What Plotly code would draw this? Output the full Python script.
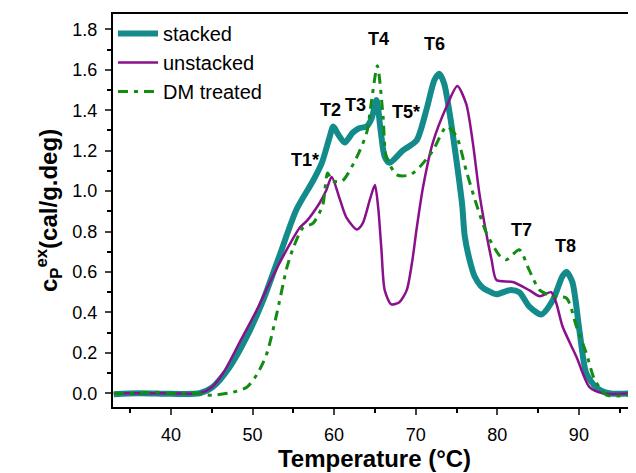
import plotly.graph_objects as go

# ---- data ----
stacked_T = [33, 36, 40, 43.5, 45.1, 47.2, 49.3, 51.3, 53.3, 55.4, 57.4, 58.5, 59.4, 59.9, 60.5,
             61.3, 62.3, 63.0, 64.0, 64.6, 65.2, 65.7, 66.2, 66.8, 68.4, 70.1, 71.3, 72.3, 72.9,
             73.5, 74.1, 75.0, 75.7, 76.0, 76.6, 77.2, 78.0, 78.7, 79.9, 81.5, 82.7, 83.9, 85.4,
             86.8, 88.0, 88.5, 89.2, 90.1, 90.9, 92.1, 93.7, 97]
stacked_y = [-0.005, 0.0, -0.003, 0.0, 0.03, 0.13, 0.28, 0.46, 0.68, 0.91, 1.05, 1.14, 1.26, 1.32, 1.28,
             1.24, 1.29, 1.31, 1.32, 1.36, 1.45, 1.30, 1.17, 1.14, 1.20, 1.25, 1.40, 1.55, 1.58,
             1.53, 1.40, 1.15, 0.93, 0.78, 0.66, 0.58, 0.53, 0.51, 0.49, 0.51, 0.50, 0.43, 0.39,
             0.46, 0.58, 0.60, 0.55, 0.30, 0.10, 0.03, 0.0, 0.0]

unstacked_T = [33, 36, 40, 43.5, 45, 46.4, 48.4, 50.5, 52.5, 54.6, 55.8, 56.6, 58.2, 59.0, 59.7,
               60.7, 61.5, 62.8, 63.5, 64.4, 65.0, 65.4, 65.8, 66.2, 67.0, 68.0, 68.9, 69.6, 70.1,
               70.9, 72.1, 73.8, 75.1, 76.2, 77.0, 77.8, 78.7, 79.3, 79.9, 81.9, 83.9, 85.2, 86.6,
               87.2, 88.0, 89.7, 91.3, 92.9, 97]
unstacked_y = [0.0, 0.0, 0.0, 0.0, 0.03, 0.10, 0.25, 0.41, 0.58, 0.74, 0.82, 0.85, 0.94, 1.0, 1.07,
               0.96, 0.87, 0.81, 0.84, 0.96, 1.03, 0.92, 0.71, 0.51, 0.44, 0.45, 0.51, 0.66, 0.81,
               1.02, 1.24, 1.42, 1.52, 1.43, 1.24, 0.99, 0.78, 0.66, 0.56, 0.55, 0.51, 0.48, 0.50,
               0.45, 0.33, 0.18, 0.03, 0.0, 0.0]

dm_T = [33, 36, 38, 40, 43, 45.1, 47.6, 49.3, 50.5, 51.7, 52.9, 54.2, 55.0, 56.2, 57.4, 58.6,
        59.2, 59.8, 61.0, 62.8, 64.0, 64.6, 65.3, 66.0, 66.4, 67.7, 69.3, 70.5, 72.1, 73.8, 75.0,
        76.2, 77.4, 78.7, 80.3, 81.1, 82.7, 83.9, 85.2, 86.8, 88.5, 89.7, 90.9, 91.9, 93.4, 95.8, 97]
dm_y = [0.0, 0.0, 0.005, 0.0, 0.0, -0.01, 0.005, 0.03, 0.09, 0.19, 0.38, 0.62, 0.72, 0.82, 0.84, 0.93,
        1.09, 1.05, 1.05, 1.17, 1.29, 1.45, 1.62, 1.37, 1.17, 1.08, 1.08, 1.12, 1.20, 1.32, 1.27,
        1.10, 0.94, 0.79, 0.68, 0.66, 0.71, 0.61, 0.51, 0.48, 0.47, 0.33, 0.20, 0.07, -0.01, -0.01, -0.01]

peak_labels = ["T1*", "T2", "T3", "T4", "T5*", "T6", "T7", "T8"]
peak_label_T = [56.4, 59.5, 62.6, 65.5, 68.8, 72.3, 83.0, 88.3]
peak_label_y = [1.154, 1.40, 1.426, 1.75, 1.39, 1.73, 0.81, 0.73]

x_ticks = [40, 50, 60, 70, 80, 90]
y_ticks = [0.0, 0.2, 0.4, 0.6, 0.8, 1.0, 1.2, 1.4, 1.6, 1.8]

FONT = "Liberation Sans, Arial, sans-serif"

fig = go.Figure()
fig.add_trace(go.Scatter(x=stacked_T, y=stacked_y, name="stacked", mode="lines",
                         line=dict(color="#138b8b", width=6, shape="spline", smoothing=0.7)))
fig.add_trace(go.Scatter(x=unstacked_T, y=unstacked_y, name="unstacked", mode="lines",
                         line=dict(color="#8b108b", width=2.5, shape="spline", smoothing=0.7)))
fig.add_trace(go.Scatter(x=dm_T, y=dm_y, name="DM treated", mode="lines",
                         line=dict(color="#128c12", width=3, shape="spline", smoothing=0.7,
                                   dash="10px,6px,4px,6px")))

for txt, tx, ty in zip(peak_labels, peak_label_T, peak_label_y):
    fig.add_annotation(x=tx, y=ty, text="<b>%s</b>" % txt, showarrow=False,
                       font=dict(family=FONT, size=18, color="black"))

# page body has an 8px margin, so the figure is sized/offset to compensate
fig.update_layout(
    width=628, height=465,
    margin=dict(l=105, r=0, t=6, b=66),
    plot_bgcolor="white", paper_bgcolor="white",
    font=dict(family=FONT, color="black"),
    showlegend=True,
    legend=dict(x=0.0, y=1.0, xanchor="left", yanchor="top", bgcolor="rgba(0,0,0,0)",
                font=dict(family=FONT, size=20), tracegroupgap=0, itemwidth=40),
    xaxis=dict(range=[32.9, 97.0], tickvals=x_ticks, ticks="outside", ticklen=6, tickwidth=1.5,
               showline=True, linewidth=2, linecolor="black", mirror=True, showgrid=False,
               zeroline=False, tickfont=dict(size=18), ticklabelstandoff=4,
               minor=dict(dtick=5, tick0=0, ticks="outside", ticklen=4, tickwidth=1.5, tickcolor="black"),
               title=dict(text="<b>Temperature (°C)</b>", font=dict(size=24), standoff=4)),
    yaxis=dict(range=[-0.068, 1.876], tickvals=y_ticks, tickformat=".1f", ticks="outside",
               ticklen=6, tickwidth=1.5, showline=True, linewidth=2, linecolor="black",
               mirror=False, showgrid=False, zeroline=False, tickfont=dict(size=18),
               ticklabelstandoff=4,
               minor=dict(dtick=0.1, tick0=0, ticks="outside", ticklen=4, tickwidth=1.5, tickcolor="black"),
               title=dict(text="<b>c<sub>P</sub><sup>ex</sup>(cal/g.deg)</b>", font=dict(size=24), standoff=8)),
)

fig.write_html("out.html")
